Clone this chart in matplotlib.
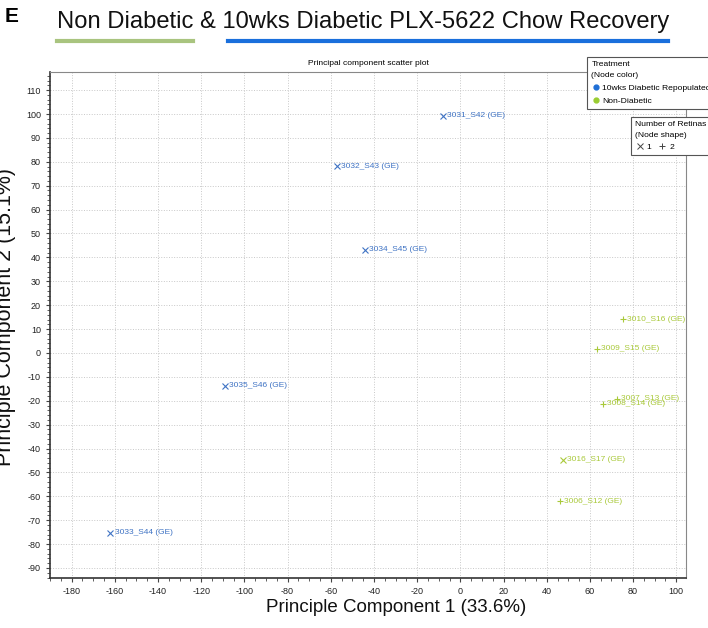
import matplotlib.pyplot as plt
from matplotlib.lines import Line2D
from matplotlib.ticker import MultipleLocator

# sample data
samples = ["3031_S42", "3032_S43", "3034_S45", "3035_S46", "3033_S44",
           "3010_S16", "3009_S15", "3007_S13", "3008_S14", "3016_S17", "3006_S12"]
pc1 = [-8.0, -57.2, -44.2, -109.0, -162.0, 75.4, 63.4, 72.6, 66.2, 47.6, 46.2]
pc2 = [99.2, 78.2, 43.1, -13.8, -75.3, 14.2, 1.7, -19.2, -21.3, -44.8, -62.0]
group = ["rep", "rep", "rep", "rep", "rep", "non", "non", "non", "non", "non", "non"]
retinas = [1, 1, 1, 1, 1, 2, 2, 2, 2, 1, 2]

blue = "#3f73c4"
green = "#a9c93a"
colors = {"rep": blue, "non": green}
markers = {1: "x", 2: "+"}

plt.rcParams['font.family'] = ['Liberation Sans', 'DejaVu Sans']
plt.rcParams['axes.unicode_minus'] = False

fig = plt.figure(figsize=(7.08, 6.28), dpi=100)

# headline with coloured underlines
fig.text(5 / 708, 1 - 16 / 628, "E", fontsize=15, fontweight="bold", va="center")
fig.text(57 / 708, 1 - 22 / 628, "Non Diabetic & 10wks Diabetic PLX-5622 Chow Recovery",
         fontsize=17.1, va="center", color="#111111")
fig.add_artist(Line2D([57 / 708, 193 / 708], [1 - 41 / 628] * 2, color="#a9c47f", lw=3))
fig.add_artist(Line2D([228 / 708, 668 / 708], [1 - 41 / 628] * 2, color="#1a6fdc", lw=3))

ax = fig.add_axes([50 / 708, 50 / 628, 636 / 708, 506 / 628])
ax.set_xlim(-190, 104.5)
ax.set_ylim(-94.2, 117.6)

for x, y, s, g, r in zip(pc1, pc2, samples, group, retinas):
    ax.plot(x, y, marker=markers[r], color=colors[g], ms=5, mew=0.8, ls="none")
    ax.annotate(s + " (GE)", (x, y), xytext=(3, 0), textcoords="offset points",
                fontsize=6, color=colors[g], va="center", ha="left")

ax.xaxis.set_major_locator(MultipleLocator(20))
ax.xaxis.set_minor_locator(MultipleLocator(5))
ax.yaxis.set_major_locator(MultipleLocator(10))
ax.yaxis.set_minor_locator(MultipleLocator(2))
ax.tick_params(labelsize=6.5, length=3, width=0.8, color="#444444", labelcolor="#222222")
ax.tick_params(which="minor", length=2, width=0.6, color="#444444")
ax.grid(True, which="major", ls=":", lw=0.7, color="#c8c8c8")
for side in ["top", "right"]:
    ax.spines[side].set_color("#888888")
for side in ["left", "bottom"]:
    ax.spines[side].set_color("#333333")
    ax.spines[side].set_linewidth(1.2)

ax.set_title("Principal component scatter plot", fontsize=6, pad=5)
fig.text(396 / 708, 1 - 607 / 628, "Principle Component 1 (33.6%)", fontsize=13.5,
         ha="center", va="center", color="#111111")
fig.text(16 / 708, 1 - 317 / 628, "Principle Component 2 (15.1%)", fontsize=15.5,
         rotation=90, va="center", ha="right", color="#111111")

# legend boxes in the top right corner
leg1 = [Line2D([], [], marker="o", ls="none", color="#1f6fd6", ms=3.5, label="10wks Diabetic Repopulated"),
        Line2D([], [], marker="o", ls="none", color="#9acd32", ms=3.5, label="Non-Diabetic")]
l1 = fig.legend(handles=leg1, title="Treatment\n(Node color)", loc="upper left",
                bbox_to_anchor=(583 / 708, 1 - 53 / 628), fontsize=6.1, title_fontsize=6.1,
                frameon=True, fancybox=False, edgecolor="#555555", handletextpad=0.3,
                handlelength=1.0, borderpad=0.5, labelspacing=0.6, framealpha=1)
l1._legend_box.align = "left"
l1.get_title().set_linespacing(1.7)
l1.get_frame().set_linewidth(0.8)

leg2 = [Line2D([], [], marker="x", ls="none", color="#444444", ms=4, mew=0.7, label="1"),
        Line2D([], [], marker="+", ls="none", color="#444444", ms=5, mew=0.7, label="2")]
l2 = fig.legend(handles=leg2, title="Number of Retinas\n(Node shape)", loc="upper left",
                bbox_to_anchor=(627 / 708, 1 - 113 / 628), fontsize=6.1, title_fontsize=6.1,
                ncol=2, frameon=True, fancybox=False, edgecolor="#555555", handletextpad=0.3,
                handlelength=1.0, columnspacing=0.8, borderpad=0.5, framealpha=1)
l2._legend_box.align = "left"
l2.get_title().set_linespacing(1.7)
l2.get_frame().set_linewidth(0.8)

fig.savefig("out.png", dpi=100)
